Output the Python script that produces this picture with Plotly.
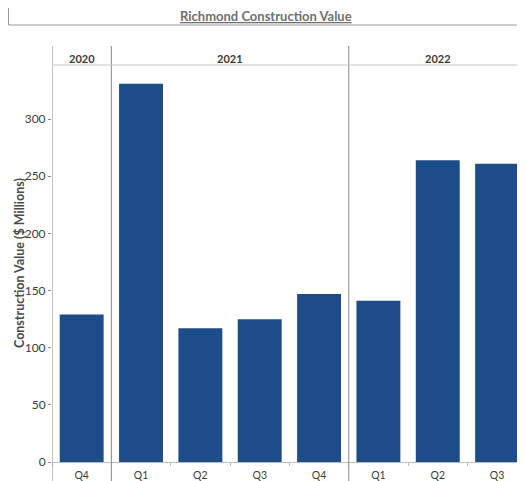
import plotly.graph_objects as go

years = ["2020", "2021", "2021", "2021", "2021", "2022", "2022", "2022"]
quarters = ["Q4", "Q1", "Q2", "Q3", "Q4", "Q1", "Q2", "Q3"]
values = [129, 331, 117, 125, 147, 141, 264, 261]
year_labels = ["2020", "2021", "2022"]
year_label_pos = [0, 2.5, 6]
year_dividers = [0.5, 4.5]
y_ticks = [0, 50, 100, 150, 200, 250, 300]

keys = [f"{y} {q}" for y, q in zip(years, quarters)]

# page body has an 8px margin; size the figure so it fills the 525x481 window
OFF = 8
W, H = 525 - OFF, 481 - OFF
ml, mr, mt, mb = 52 - OFF, 0, 66 - OFF, 19
pw, ph = W - ml - mr, H - mt - mb

def px_y(py):
    return 1 + (mt - (py - OFF)) / ph

def px_x(pxv):
    return ((pxv - OFF) - ml) / pw

fig = go.Figure()
fig.add_trace(go.Bar(
    x=keys, y=values,
    marker=dict(color="#1c4d88", line=dict(width=0)),
    hoverinfo="x+y",
))

grey = "#8a8a8a"
shapes = []
for xv in [-0.5] + year_dividers:
    shapes.append(dict(type="line", xref="x", yref="paper", x0=xv, x1=xv,
                       y0=px_y(483), y1=px_y(46), line=dict(color=grey, width=1)))
shapes.append(dict(type="line", xref="paper", yref="paper", x0=0, x1=1,
                   y0=px_y(65), y1=px_y(65), line=dict(color="#c8c8c8", width=1)))
shapes.append(dict(type="rect", xref="paper", yref="paper",
                   x0=px_x(8.5), x1=px_x(540), y0=px_y(25), y1=px_y(7),
                   line=dict(color="#9a9a9a", width=1)))

annotations = [dict(
    text="<b><u>Richmond Construction Value</u></b>", xref="paper", yref="paper",
    x=px_x(266), y=px_y(16), showarrow=False, xanchor="center", yanchor="middle",
    font=dict(family="Lato", size=13, color="#707070"))]
for lab, pos in zip(year_labels, year_label_pos):
    annotations.append(dict(
        text=f"<b>{lab}</b>", xref="x", yref="paper", x=pos, y=px_y(58),
        showarrow=False, xanchor="center", yanchor="middle",
        font=dict(family="Lato", size=11, color="#3c3c3c")))
annotations.append(dict(
    text="<b>Construction Value ($ Millions)</b>", xref="paper", yref="paper",
    x=px_x(20), y=px_y(263), showarrow=False, xanchor="center", yanchor="middle",
    textangle=-90, font=dict(family="Lato", size=12.5, color="#4a4a4a")))

fig.update_layout(
    width=W, height=H,
    margin=dict(l=ml, r=mr, t=mt, b=mb, pad=0, autoexpand=False),
    paper_bgcolor="white", plot_bgcolor="white",
    bargap=0.26, showlegend=False,
    shapes=shapes, annotations=annotations,
    font=dict(family="Lato", color="#3c3c3c"),
)
fig.update_xaxes(
    type="category", range=[-0.5, 7.47], automargin=False,
    tickmode="array", tickvals=keys, ticktext=quarters,
    tickfont=dict(family="Lato", size=10.5, color="#3c3c3c"),
    showline=True, linecolor="#bdbdbd", linewidth=1,
    ticks="outside", tickson="boundaries", ticklen=3, tickcolor="#bdbdbd",
    ticklabelstandoff=3,
    showgrid=False, zeroline=False,
)
fig.update_yaxes(
    range=[0, ph / 1.143], automargin=False,
    tickmode="array", tickvals=y_ticks,
    tickfont=dict(family="Lato", size=12, color="#3c3c3c"),
    ticks="outside", ticklen=3, tickcolor=grey, ticklabelstandoff=0,
    showline=False, showgrid=False, zeroline=False,
)

fig.write_html("out.html")
